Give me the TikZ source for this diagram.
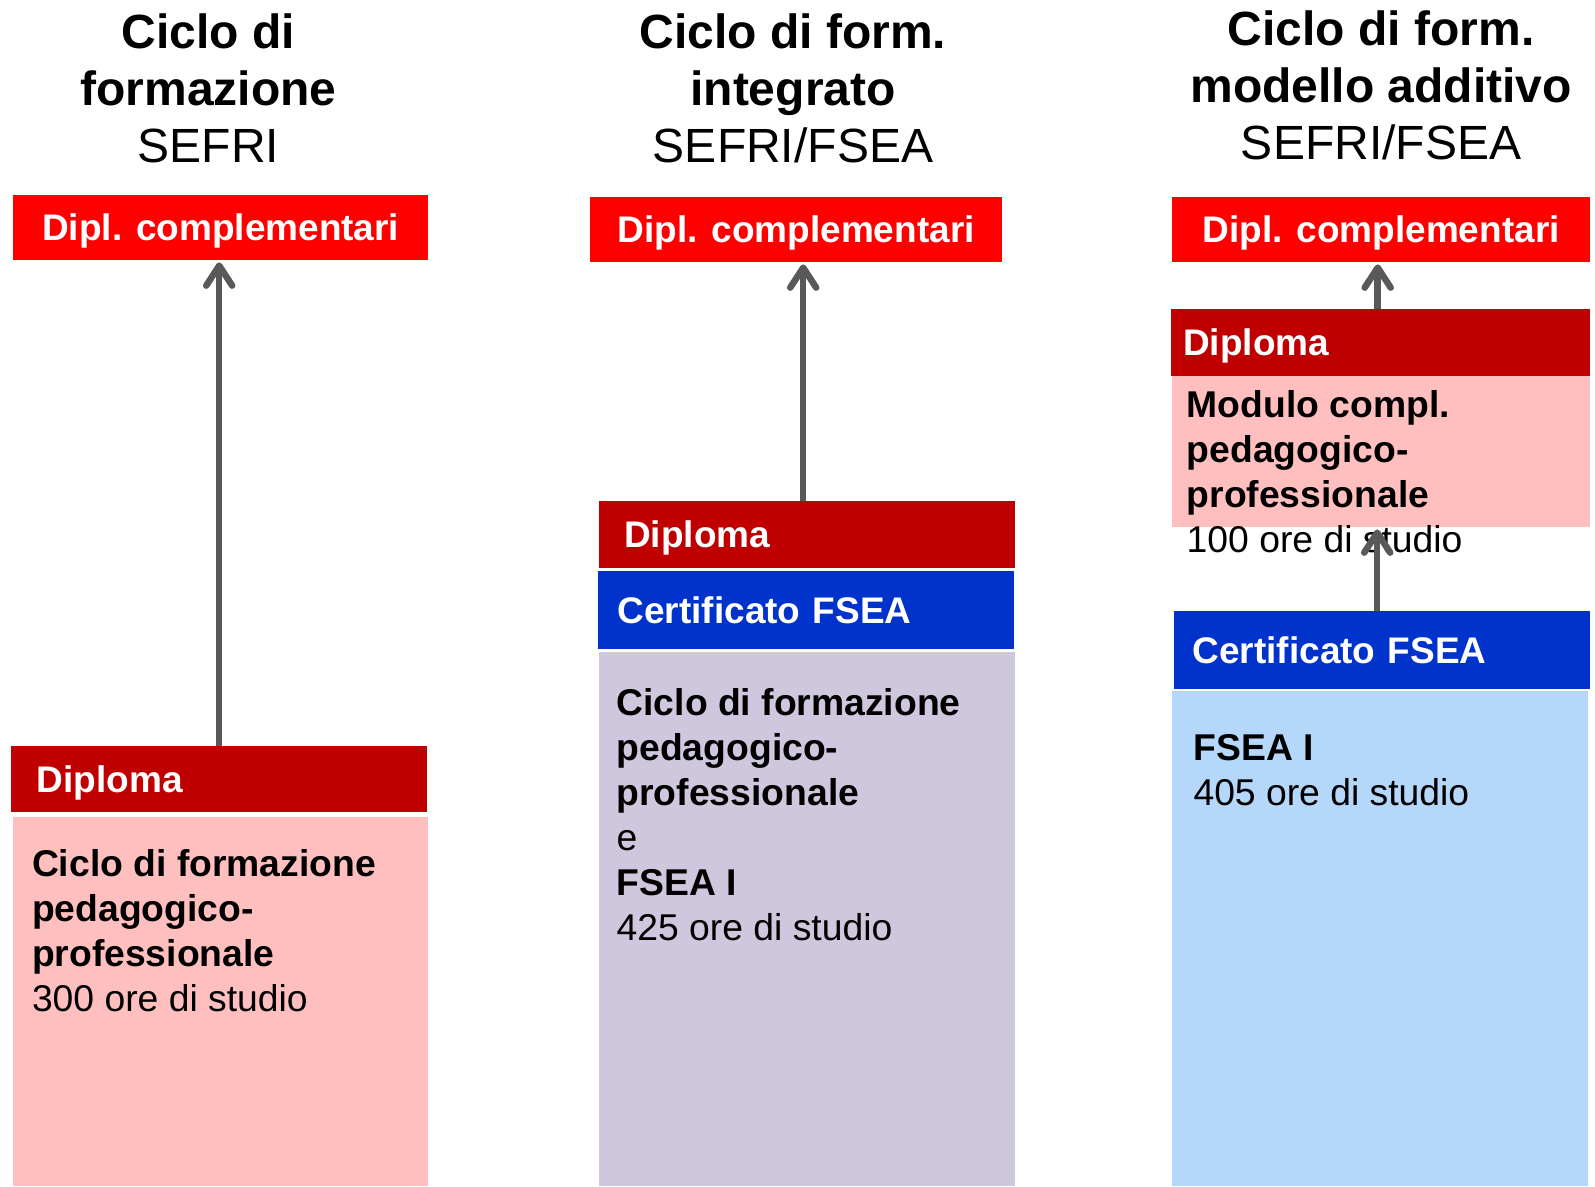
\documentclass[tikz,border=0pt]{standalone}
\usepackage{fontspec}
\setmainfont{Liberation Sans}
\usetikzlibrary{arrows.meta}
\definecolor{diplred}{HTML}{FF0000}
\definecolor{darkred}{HTML}{C00000}
\definecolor{pinkbox}{HTML}{FFBFBF}
\definecolor{certblue}{HTML}{0033CC}
\definecolor{lavender}{HTML}{CFC7DD}
\definecolor{lightblue}{HTML}{B4D7FA}
\definecolor{arrgray}{HTML}{595959}
\begin{document}
\begin{tikzpicture}[x=1pt,y=-1pt,>={Straight Barb[length=20pt,width=26pt,round]},
    title/.style={anchor=north, inner sep=0pt, align=center, font=\fontsize{48}{57}\selectfont},
    dipl/.style={anchor=north west, inner sep=0pt, fill=diplred, text=white, font=\bfseries\fontsize{37}{45}\selectfont, text height=26.5pt, text depth=0pt},
    head/.style={anchor=north west, inner ysep=0pt, align=left, text=white, font=\bfseries\fontsize{37}{45}\selectfont, text height=26.5pt, text depth=0pt},
    panel/.style={anchor=north west, inner sep=0pt},
    txt/.style={anchor=north west, inner sep=0pt, align=left, font=\fontsize{37.3}{45}\selectfont},
    arr/.style={->, arrgray, line width=6.5pt, shorten >=2pt}]
\useasboundingbox (0,0) rectangle (1595,1186);

% SEFRI
\node[title] (ti1) at (208.5,13.5) {\textbf{Ciclo di}\\ \textbf{formazione}\\ SEFRI};
\node[dipl, minimum width=415, minimum height=65] (dc1) at (13,195) {Dipl. complementari};
\node[head, fill=darkred, minimum height=66, text width=364.6, inner xsep=25.7] (dp1) at (11,746) {Diploma};
\node[panel, fill=pinkbox, minimum width=415, minimum height=369] (pk1) at (13,817) {};
\node[txt] (tx1) at (31.8,849.5) {\textbf{Ciclo di formazione}\\ \textbf{pedagogico-}\\ \textbf{professionale}\\ 300 ore di studio};
\draw[arr] (dp1.north) -- (dp1.north |- dc1.south);

% integrato
\node[title] (ti2) at (793,13.5) {\textbf{Ciclo di form.}\\ \textbf{integrato}\\ SEFRI/FSEA};
\node[dipl, minimum width=412, minimum height=65] (dc2) at (590,197) {Dipl. complementari};
\node[head, fill=darkred, minimum height=67, text width=366, inner xsep=25] (dp2) at (599,501) {Diploma};
\node[head, fill=certblue, minimum height=78, text width=377.2, inner xsep=19.4] (cf2) at (598,571) {Certificato FSEA};
\node[panel, fill=lavender, minimum width=416, minimum height=534] (lv2) at (599,652) {};
\node[txt] (tx2) at (616.4,688) {\textbf{Ciclo di formazione}\\ \textbf{pedagogico-}\\ \textbf{professionale}\\ e\\ \textbf{FSEA I}\\ 425 ore di studio};
\draw[arr] ([xshift=-4]dp2.north) -- ([xshift=-4]dp2.north |- dc2.south);

% additivo
\node[title] (ti3) at (1381,10.5) {\textbf{Ciclo di form.}\\ \textbf{modello additivo}\\ SEFRI/FSEA};
\node[dipl, minimum width=418, minimum height=65] (dc3) at (1172,197) {Dipl. complementari};
\node[head, fill=darkred, minimum height=67, text width=395, inner xsep=12] (dp3) at (1171,309) {Diploma};
\node[panel, fill=pinkbox, minimum width=418, minimum height=151] (pk3) at (1172,376) {};
\node[txt] (tx3) at (1186.5,390.5) {\textbf{Modulo compl.}\\ \textbf{pedagogico-}\\ \textbf{professionale}\\ 100 ore di studio};
\node[head, fill=certblue, minimum height=78, text width=379.2, inner xsep=18.4] (cf3) at (1174,611) {Certificato FSEA};
\node[panel, fill=lightblue, minimum width=416, minimum height=495] (lb3) at (1172,691) {};
\node[txt] (tx4) at (1193.3,734.5) {\textbf{FSEA I}\\ 405 ore di studio};
\draw[arr] ([xshift=-3]dp3.north) -- ([xshift=-3]dp3.north |- dc3.south);
\draw[arr] ([xshift=-5]cf3.north) -- ([xshift=-5]cf3.north |- pk3.south);

\end{tikzpicture}
\end{document}
